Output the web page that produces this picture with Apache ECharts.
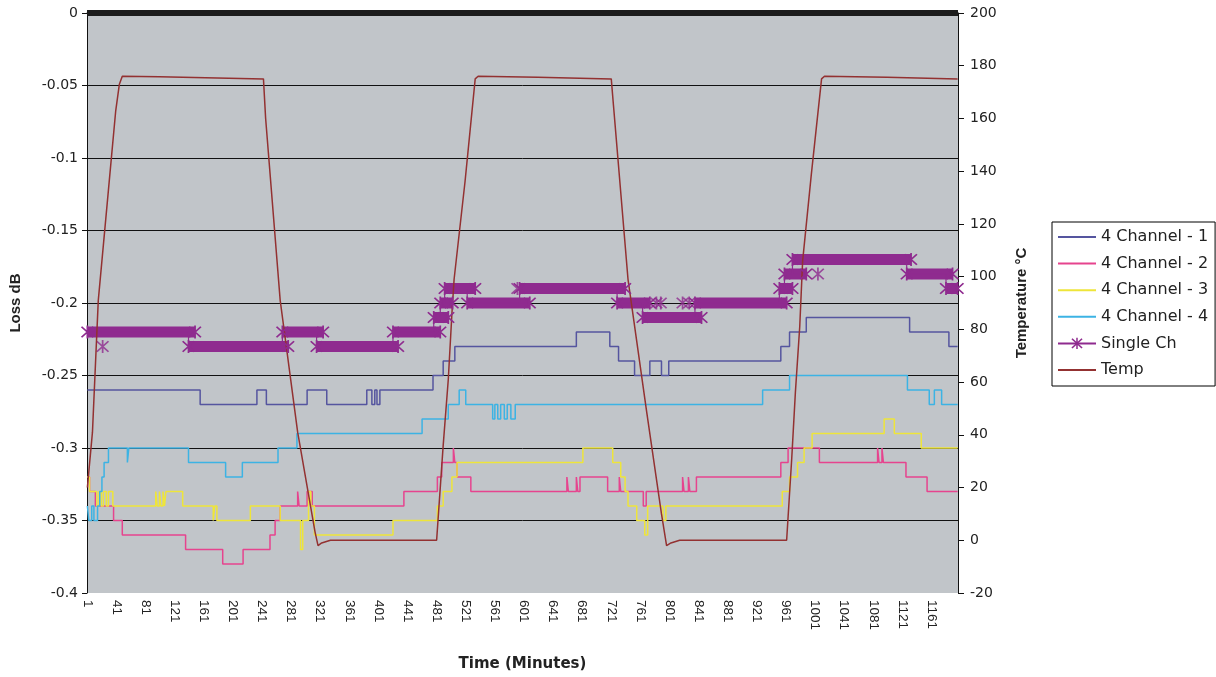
<!DOCTYPE html>
<html>
<head>
<meta charset="utf-8">
<script src="https://cdn.jsdelivr.net/npm/echarts/dist/echarts.min.js"></script>
<style>html,body{margin:0;padding:0;background:#fff}#c{width:1216px;height:677px}</style>
</head>
<body>
<div id="c"></div>
<script>
// ---- data (minutes, values) ----
const LAST_MINUTE = 1197;
const minutes = [];
for (let m = 1; m <= LAST_MINUTE; m++) minutes.push(String(m));

// change points [minute, loss dB] – value is held until next change point
const ch1 = [[1,-0.26],[156,-0.27],[234,-0.26],[247,-0.27],[303,-0.26],[330,-0.27],[385,-0.26],[392,-0.27],[396,-0.26],[399,-0.27],[403,-0.26],[476,-0.25],[490,-0.24],[506,-0.23],[673,-0.22],[719,-0.23],[731,-0.24],[753,-0.25],[774,-0.24],[790,-0.25],[800,-0.24],[954,-0.23],[966,-0.22],[989,-0.21],[1131,-0.22],[1185,-0.23],[1197,-0.23]];
const ch2 = [[1,-0.32],[4,-0.33],[12,-0.34],[37,-0.35],[49,-0.36],[136,-0.37],[187,-0.38],[215,-0.37],[252,-0.36],[259,-0.35],[266,-0.34],[290,-0.33],[292,-0.34],[303,-0.33],[310,-0.34],[436,-0.33],[482,-0.32],[488,-0.31],[504,-0.30],[506,-0.31],[509,-0.32],[528,-0.33],[660,-0.32],[662,-0.33],[673,-0.32],[675,-0.33],[678,-0.32],[716,-0.33],[732,-0.32],[734,-0.33],[765,-0.34],[769,-0.33],[819,-0.32],[821,-0.33],[827,-0.32],[829,-0.33],[838,-0.32],[954,-0.31],[964,-0.30],[1007,-0.31],[1087,-0.30],[1089,-0.31],[1093,-0.30],[1095,-0.31],[1126,-0.32],[1155,-0.33],[1197,-0.33]];
const ch3 = [[1,-0.32],[4,-0.33],[14,-0.34],[17,-0.33],[20,-0.34],[23,-0.33],[27,-0.34],[30,-0.33],[36,-0.34],[95,-0.33],[97,-0.34],[100,-0.33],[102,-0.34],[105,-0.33],[107,-0.34],[109,-0.33],[132,-0.34],[174,-0.35],[176,-0.34],[179,-0.35],[225,-0.34],[266,-0.35],[294,-0.37],[297,-0.35],[305,-0.33],[308,-0.34],[313,-0.36],[421,-0.35],[482,-0.34],[490,-0.33],[502,-0.32],[509,-0.31],[682,-0.30],[723,-0.31],[734,-0.32],[740,-0.33],[744,-0.34],[756,-0.35],[767,-0.36],[771,-0.34],[792,-0.35],[796,-0.34],[956,-0.33],[966,-0.32],[977,-0.31],[986,-0.30],[997,-0.29],[1096,-0.28],[1110,-0.29],[1147,-0.30],[1197,-0.30]];
const ch4 = [[1,-0.34],[3,-0.35],[7,-0.34],[10,-0.35],[15,-0.34],[18,-0.33],[21,-0.32],[24,-0.31],[30,-0.30],[56,-0.31],[58,-0.30],[140,-0.31],[191,-0.32],[214,-0.31],[263,-0.30],[289,-0.29],[461,-0.28],[497,-0.27],[512,-0.26],[521,-0.27],[558,-0.28],[561,-0.27],[565,-0.28],[569,-0.27],[574,-0.28],[578,-0.27],[583,-0.28],[589,-0.27],[929,-0.26],[966,-0.25],[1128,-0.26],[1158,-0.27],[1165,-0.26],[1175,-0.27],[1197,-0.27]];
// Single Ch runs [start minute, end minute, loss dB]
const singleRuns = [[1,149,-0.22],[140,277,-0.23],[269,325,-0.22],[316,428,-0.23],[421,486,-0.22],[477,497,-0.21],[486,503,-0.20],[492,534,-0.19],[523,609,-0.20],[595,740,-0.19],[729,774,-0.20],[764,845,-0.21],[836,962,-0.20],[952,970,-0.19],[959,989,-0.18],[970,1133,-0.17],[1127,1190,-0.18],[1181,1197,-0.19]];
const singleOutliers = [[22,-0.23],[592,-0.19],[783,-0.20],[789,-0.20],[819,-0.20],[828,-0.20],[1005,-0.18]];
// Temperature [minute, °C]
const temp = [[1,20],[8,41],[16,91],[30,133],[40,163],[45,173],[49,176],[100,175.8],[243,175],[246,160],[266,91],[290,41],[314,3],[318,-2],[323,-1],[335,0],[481,0],[490,36],[497,61],[502,86],[505,99],[520,136],[534,175],[538,176],[620,175.6],[721,175],[724,165],[744,99],[770,48],[790,10],[797,-2],[803,-1],[815,0],[962,0],[969,31],[974,56],[980,81],[984,106],[996,139],[1010,175],[1014,176],[1100,175.6],[1197,175]];

const seriesNames = ['4 Channel - 1','4 Channel - 2','4 Channel - 3','4 Channel - 4','Single Ch','Temp'];

// ---- styles ----
const COLORS = {c1:'#55559f', c2:'#e6448e', c3:'#eee53a', c4:'#3cb3e4', s:'#8f2b8f', t:'#933131'};
const STAR = 'path://M8.8,0H11.2V20H8.8Z M1.0,2.8L2.8,1.0L19.0,17.2L17.2,19.0Z M17.2,1.0L19.0,2.8L2.8,19.0L1.0,17.2Z';
const TICK_FONT = 'DejaVu Sans';

const toIdx = arr => arr.map(p => [p[0] - 1, p[1]]);
const singleLine = [];
singleRuns.forEach(r => { singleLine.push([r[0] - 1, r[2]]); singleLine.push([r[1] - 1, r[2]]); });

function plainLine(name, data, color, extra) {
  return Object.assign({
    name, type: 'line', step: 'end', data: toIdx(data),
    symbol: 'none', showSymbol: false,
    lineStyle: {width: 1.5, color}, itemStyle: {color, opacity: 0},
    emphasis: {disabled: true}
  }, extra || {});
}

const chart = echarts.init(document.getElementById('c'), null, {renderer: 'canvas'});
chart.setOption({
  animation: false,
  backgroundColor: '#ffffff',
  grid: {left: 86, right: 258, top: 13, bottom: 83, show: true, backgroundColor: '#c1c5c9', borderWidth: 0},
  legend: {
    orient: 'vertical', left: 1052, top: 222,
    padding: [7, 7, 8, 5], itemGap: 10.6, itemWidth: 38, itemHeight: 14,
    backgroundColor: '#ffffff', borderColor: '#000', borderWidth: 1, borderRadius: 0,
    selectedMode: false,
    textStyle: {fontFamily: TICK_FONT, fontSize: 16, color: '#222'},
    data: seriesNames.map(n => n === 'Single Ch' ? {name: n} : {name: n, itemStyle: {opacity: 0}})
  },
  xAxis: {
    type: 'category', data: minutes, boundaryGap: true,
    name: 'Time (Minutes)', nameLocation: 'middle', nameGap: 64,
    nameTextStyle: {fontFamily: TICK_FONT, fontWeight: 'bold', fontSize: 15, color: '#222'},
    axisLine: {show: true, lineStyle: {color: '#9a9a9a', width: 1.5}},
    axisTick: {show: false},
    axisLabel: {interval: 39, rotate: -90, margin: 7, fontFamily: 'Liberation Sans', fontSize: 13.5, color: '#222'},
    splitLine: {show: false}
  },
  yAxis: [{
    type: 'value', min: -0.4, max: 0, interval: 0.05, position: 'left',
    name: 'Loss dB', nameLocation: 'middle', nameGap: 64,
    nameTextStyle: {fontFamily: 'Liberation Sans', fontWeight: 'bold', fontSize: 15, color: '#222'},
    axisLine: {show: true, lineStyle: {color: '#111', width: 1}},
    axisTick: {show: true, length: 5, lineStyle: {color: '#111'}},
    axisLabel: {fontFamily: TICK_FONT, fontSize: 14, color: '#222', margin: 9},
    splitLine: {show: true, showMinLine: false, lineStyle: {color: '#111', width: 1}}
  }, {
    type: 'value', min: -20, max: 200, interval: 20, position: 'right',
    name: 'Temperature °C', nameLocation: 'middle', nameGap: 56,
    nameTextStyle: {fontFamily: 'Liberation Sans', fontWeight: 'bold', fontSize: 15, color: '#222'},
    axisLine: {show: true, lineStyle: {color: '#111', width: 1}},
    axisTick: {show: true, length: 6, lineStyle: {color: '#111'}},
    axisLabel: {fontFamily: TICK_FONT, fontSize: 14, color: '#222', margin: 12},
    splitLine: {show: false}
  }],
  series: [
    plainLine(seriesNames[0], ch1, COLORS.c1, {
      markLine: {silent: true, symbol: 'none', label: {show: false},
        lineStyle: {color: '#1c1c1c', width: 6, type: 'solid', opacity: 1}, data: [{yAxis: 0}]}
    }),
    plainLine(seriesNames[1], ch2, COLORS.c2),
    plainLine(seriesNames[2], ch3, COLORS.c3),
    plainLine(seriesNames[3], ch4, COLORS.c4),
    {
      name: 'Single Ch band', type: 'custom',
      data: singleRuns.map(r => [r[0] - 1, r[1] - 1, r[2]]),
      encode: {x: [0, 1], y: 2},
      renderItem: function (params, api) {
        const a = api.coord([api.value(0), api.value(2)]);
        const b = api.coord([api.value(1), api.value(2)]);
        const h = 11;
        return {type: 'rect', shape: {x: a[0], y: a[1] - h / 2, width: b[0] - a[0], height: h},
                style: {fill: COLORS.s}};
      },
      silent: true
    },
    {
      name: seriesNames[4], type: 'line', step: 'end', data: singleLine,
      symbol: STAR, symbolSize: 13, showSymbol: true, showAllSymbol: true,
      lineStyle: {width: 1.2, color: COLORS.s}, itemStyle: {color: COLORS.s},
      emphasis: {disabled: true}
    },
    {
      name: 'Single Ch points', type: 'scatter', data: toIdx(singleOutliers),
      symbol: STAR, symbolSize: 13, itemStyle: {color: COLORS.s}, silent: true
    },
    plainLine(seriesNames[5], temp, COLORS.t, {yAxisIndex: 1, step: false})
  ]
});
</script>
</body>
</html>
